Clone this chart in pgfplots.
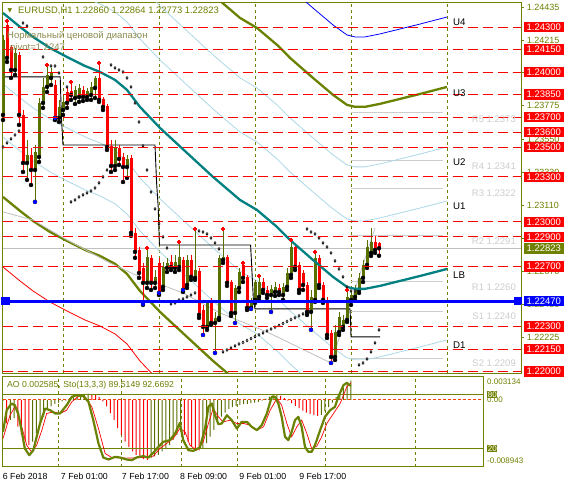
\documentclass[border=0pt]{standalone}
\usepackage{fontspec}
\usepackage{pgfplots}
\usepackage{pgfplotstable}
\pgfplotsset{compat=1.18}
\setmainfont{Liberation Sans}
\newfontfamily\djv{DejaVu Sans}
\newcommand\fz[1]{\fontsize{#1}{#1}\selectfont}

\definecolor{olv}{RGB}{112,128,0}
\definecolor{cndl}{RGB}{88,112,0}
\definecolor{olvln}{RGB}{105,130,0}
\definecolor{tealc}{RGB}{0,128,128}
\definecolor{lblue}{RGB}{173,216,230}
\definecolor{pgray}{RGB}{205,205,205}
\definecolor{bidgray}{RGB}{192,192,192}
\definecolor{khaki}{RGB}{140,140,80}
\definecolor{ored}{RGB}{255,69,0}

% H1 candles, k = bar index
\pgfplotstableread{
k o h l c
0 1.23714 1.24248 1.23680 1.24215
3 1.24014 1.24161 1.23981 1.24128
6 1.23393 1.23547 1.23280 1.23447
8 1.23346 1.23513 1.23133 1.23467
9 1.23433 1.23827 1.23400 1.23794
10 1.23794 1.23961 1.23761 1.23901
11 1.23901 1.24048 1.23867 1.23981
12 1.23961 1.24028 1.23914 1.23994
14 1.23694 1.23814 1.23667 1.23767
15 1.23747 1.23847 1.23714 1.23801
18 1.23827 1.23908 1.23787 1.23881
19 1.23834 1.23921 1.23801 1.23894
21 1.23834 1.23894 1.23814 1.23874
22 1.23847 1.23934 1.23814 1.23901
23 1.23894 1.23974 1.23827 1.23961
28 1.23373 1.23547 1.23346 1.23500
31 1.23366 1.23447 1.23293 1.23420
36 1.22592 1.22825 1.22558 1.22765
38 1.22592 1.22678 1.22558 1.22632
40 1.22565 1.22732 1.22545 1.22698
41 1.22692 1.22759 1.22665 1.22725
43 1.22692 1.22779 1.22665 1.22732
44 1.22698 1.22866 1.22678 1.22765
46 1.22578 1.22779 1.22558 1.22745
48 1.22625 1.22952 1.22612 1.22678
51 1.22298 1.22478 1.22278 1.22465
53 1.22324 1.22398 1.22124 1.22358
54 1.22358 1.22779 1.22344 1.22759
55 1.22745 1.22952 1.22725 1.22765
58 1.22391 1.22578 1.22324 1.22558
59 1.22558 1.22692 1.22531 1.22665
62 1.22425 1.22491 1.22418 1.22465
63 1.22478 1.22612 1.22458 1.22598
64 1.22498 1.22638 1.22478 1.22598
67 1.22511 1.22578 1.22398 1.22552
68 1.22531 1.22598 1.22505 1.22565
70 1.22511 1.22592 1.22478 1.22565
71 1.22565 1.22692 1.22545 1.22658
72 1.22645 1.22879 1.22625 1.22832
77 1.22398 1.22545 1.22278 1.22498
78 1.22478 1.22799 1.22465 1.22759
83 1.22097 1.22311 1.22077 1.22264
84 1.22264 1.22398 1.22244 1.22364
85 1.22298 1.22378 1.22278 1.22344
86 1.22344 1.22545 1.22331 1.22498
87 1.22478 1.22545 1.22445 1.22511
88 1.22498 1.22578 1.22478 1.22545
89 1.22545 1.22658 1.22525 1.22625
90 1.22625 1.22745 1.22598 1.22712
91 1.22712 1.22879 1.22692 1.22832
92 1.22792 1.22959 1.22772 1.22866
}\bull
\pgfplotstableread{
k o h l c
1 1.24315 1.24348 1.24068 1.24095
2 1.24168 1.24181 1.23961 1.24014
4 1.24115 1.24135 1.23647 1.23714
5 1.23714 1.23747 1.23333 1.23393
7 1.23447 1.23493 1.23246 1.23346
13 1.23914 1.23948 1.23680 1.23694
16 1.23867 1.23894 1.23761 1.23794
17 1.23874 1.23934 1.23814 1.23847
20 1.23881 1.23908 1.23807 1.23834
24 1.23961 1.24061 1.23801 1.23814
25 1.23821 1.23834 1.23747 1.23767
26 1.23774 1.23787 1.23480 1.23500
27 1.23507 1.23547 1.23333 1.23373
29 1.23493 1.23513 1.23380 1.23420
30 1.23433 1.23460 1.23266 1.23366
32 1.23427 1.23447 1.22906 1.22926
33 1.22926 1.22959 1.22759 1.22799
34 1.22812 1.22832 1.22625 1.22658
35 1.22692 1.22725 1.22445 1.22592
37 1.22759 1.22779 1.22545 1.22592
39 1.22725 1.22759 1.22511 1.22525
42 1.22732 1.22779 1.22678 1.22698
45 1.22745 1.22765 1.22531 1.22545
47 1.22745 1.22779 1.22612 1.22632
49 1.22672 1.22692 1.22358 1.22378
50 1.22411 1.22445 1.22244 1.22298
52 1.22465 1.22491 1.22311 1.22324
56 1.22765 1.22779 1.22572 1.22592
57 1.22598 1.22612 1.22371 1.22391
60 1.22712 1.22725 1.22598 1.22625
61 1.22632 1.22645 1.22411 1.22425
65 1.22598 1.22625 1.22525 1.22545
66 1.22545 1.22572 1.22491 1.22511
69 1.22558 1.22585 1.22511 1.22531
73 1.22832 1.22845 1.22678 1.22698
74 1.22712 1.22732 1.22525 1.22545
75 1.22658 1.22678 1.22545 1.22578
76 1.22578 1.22598 1.22378 1.22398
79 1.22759 1.22779 1.22558 1.22578
80 1.22578 1.22598 1.22458 1.22478
81 1.22478 1.22498 1.22224 1.22244
82 1.22258 1.22278 1.22057 1.22097
93 1.22866 1.22906 1.22792 1.22812
94 1.22860 1.22864 1.22773 1.22823
}\bear

% range bands around the centre line LB
\pgfplotstableread{
k lb u1 u2 u3 u4 d1 d2 d3 d4
0 1.24395 1.24849 1.25210 1.25611 1.26078 1.23921 1.23567 1.23166 1.22698
4.25 1.24302 1.24756 1.25117 1.25518 1.25985 1.23828 1.23474 1.23073 1.22605
7.5 1.24235 1.24689 1.25050 1.25451 1.25918 1.23761 1.23407 1.23006 1.22538
11.75 1.24161 1.24615 1.24976 1.25377 1.25844 1.23687 1.23333 1.22932 1.22464
16 1.24101 1.24555 1.24916 1.25317 1.25784 1.23627 1.23273 1.22872 1.22404
20.5 1.24041 1.24495 1.24856 1.25257 1.25724 1.23567 1.23213 1.22812 1.22344
24.25 1.24001 1.24455 1.24816 1.25217 1.25684 1.23527 1.23173 1.22772 1.22304
28 1.23948 1.24402 1.24763 1.25164 1.25631 1.23474 1.23120 1.22719 1.22251
31 1.23881 1.24335 1.24696 1.25097 1.25564 1.23407 1.23053 1.22652 1.22184
34.25 1.23767 1.24221 1.24582 1.24983 1.25450 1.23293 1.22939 1.22538 1.22070
39.25 1.23627 1.24081 1.24442 1.24843 1.25310 1.23153 1.22799 1.22398 1.21930
46 1.23460 1.23914 1.24275 1.24676 1.25143 1.22986 1.22632 1.22231 1.21763
52.5 1.23300 1.23754 1.24115 1.24516 1.24983 1.22826 1.22472 1.22071 1.21603
59.25 1.23146 1.23600 1.23961 1.24362 1.24829 1.22672 1.22318 1.21917 1.21449
63.5 1.23079 1.23533 1.23894 1.24295 1.24762 1.22605 1.22251 1.21850 1.21382
68.5 1.22966 1.23420 1.23781 1.24182 1.24649 1.22492 1.22138 1.21737 1.21269
71.75 1.22879 1.23333 1.23694 1.24095 1.24562 1.22405 1.22051 1.21650 1.21182
77.5 1.22745 1.23199 1.23560 1.23961 1.24428 1.22271 1.21917 1.21516 1.21048
82.5 1.22632 1.23086 1.23447 1.23848 1.24315 1.22158 1.21804 1.21403 1.20935
86 1.22565 1.23019 1.23380 1.23781 1.24248 1.22091 1.21737 1.21336 1.20868
88 1.22552 1.23006 1.23367 1.23768 1.24235 1.22078 1.21724 1.21323 1.20855
90.5 1.22552 1.23006 1.23367 1.23768 1.24235 1.22078 1.21724 1.21323 1.20855
94.25 1.22572 1.23026 1.23387 1.23788 1.24255 1.22098 1.21744 1.21343 1.20875
99.25 1.22605 1.23059 1.23420 1.23821 1.24288 1.22131 1.21777 1.21376 1.20908
104.25 1.22638 1.23092 1.23453 1.23854 1.24321 1.22164 1.21810 1.21409 1.20941
111 1.22685 1.23139 1.23500 1.23901 1.24368 1.22211 1.21857 1.21456 1.20988
}\bands

% parabolic SAR
\pgfplotstableread{
k v
0 1.23500
1 1.23527
2 1.23554
3 1.23580
4 1.23607
5 1.24328
6 1.24308
10 1.24101
12 1.24041
13 1.24041
14 1.23994
16 1.23901
17 1.23133
18 1.23146
19 1.23166
20 1.23180
21 1.23193
22 1.23206
23 1.23226
24 1.23260
25 1.23300
26 1.23346
27 1.24048
28 1.24028
29 1.24014
30 1.24001
31 1.23961
32 1.23901
33 1.23794
34 1.23667
35 1.23507
36 1.23346
37 1.23199
38 1.23086
39 1.22986
40 1.22899
41 1.22825
42 1.22451
43 1.22458
44 1.22478
45 1.22485
46 1.22498
47 1.22511
48 1.22525
49 1.22939
50 1.22932
51 1.22919
52 1.22892
53 1.22859
54 1.22819
55 1.22131
56 1.22144
57 1.22157
58 1.22171
59 1.22184
60 1.22194
61 1.22207
62 1.22220
63 1.22233
64 1.22245
65 1.22258
66 1.22271
67 1.22284
68 1.22296
69 1.22308
70 1.22321
71 1.22334
72 1.22347
73 1.22359
74 1.22372
75 1.22385
76 1.22952
77 1.22932
78 1.22919
79 1.22892
80 1.22859
81 1.22832
82 1.22792
83 1.22739
84 1.22685
85 1.22632
86 1.22565
87 1.22538
88 1.22538
89 1.22044
90 1.22057
91 1.22084
92 1.22131
93 1.22191
94 1.22278
}\sar

\pgfplotstableread{
k v
1 1.24342
11 1.24048
17 1.23934
24 1.24061
36 1.22825
44 1.22866
48 1.22952
55 1.22952
60 1.22725
64 1.22638
72 1.22879
78 1.22799
86 1.22545
}\frup
\pgfplotstableread{
k v
8 1.23133
13 1.23694
35 1.22451
39 1.22525
45 1.22545
50 1.22244
53 1.22124
58 1.22324
62 1.22418
67 1.22398
77 1.22278
82 1.22057
}\frdn

% Awesome oscillator
\pgfplotstableread{
k v
0 -0.00022
2 -0.00268
3 -0.00246
8 -0.00559
9 -0.00447
10 -0.00335
11 -0.00224
12 -0.00134
13 -0.00089
14 -0.00054
15 -0.00036
16 -0.00022
17 -0.00009
18 0.00022
19 0.00045
20 0.00063
21 0.00072
22 0.00080
23 0.00082
40 -0.00782
41 -0.00760
42 -0.00738
43 -0.00693
44 -0.00662
45 -0.00603
46 -0.00536
47 -0.00469
48 -0.00425
54 -0.00648
55 -0.00581
56 -0.00492
57 -0.00402
58 -0.00313
59 -0.00224
60 -0.00170
61 -0.00125
62 -0.00098
63 -0.00080
64 -0.00067
65 -0.00058
66 -0.00054
67 -0.00045
68 -0.00036
69 -0.00027
70 -0.00009
71 0.00018
72 0.00045
73 0.00063
74 0.00067
86 -0.00201
87 -0.00156
88 -0.00098
89 -0.00036
90 0.00036
91 0.00098
92 0.00156
93 0.00224
94 0.002585
}\aoup
\pgfplotstableread{
k v
1 -0.00313
4 -0.00358
5 -0.00469
6 -0.00536
7 -0.00603
24 0.00072
25 0.00063
26 0.00036
27 -0.00022
28 -0.00089
29 -0.00179
30 -0.00268
31 -0.00380
32 -0.00469
33 -0.00559
34 -0.00635
35 -0.00693
36 -0.00738
37 -0.00769
38 -0.00796
39 -0.00805
49 -0.00469
50 -0.00559
51 -0.00617
52 -0.00662
53 -0.00679
75 0.00054
76 0.00022
77 -0.00009
78 -0.00045
79 -0.00080
80 -0.00112
81 -0.00143
82 -0.00170
83 -0.00188
84 -0.00201
85 -0.00215
}\aodn

% Stochastic (13,3,3)
\pgfplotstableread{
k s
0 38.5
1.0 62.6
2.3 70.0
3.2 68.1
4.1 58.9
5.0 40.4
5.9 20.0
7.1 12.6
8.2 18.1
9.1 33.0
10.0 47.8
11.4 64.4
12.7 62.6
14.1 58.9
15.4 58.9
17.2 68.1
18.6 77.4
19.9 79.3
21.7 78.1
23.1 71.9
24.4 51.5
25.8 25.6
27.1 10.0
28.5 7.8
30.3 10.7
31.6 10.0
33.4 7.8
34.8 7.0
36.1 10.0
37.9 11.5
39.3 10.0
40.6 15.2
42.0 21.8
43.3 27.4
45.1 29.3
46.5 36.7
47.8 48.5
48.7 29.3
50.1 18.1
51.4 17.4
53.2 21.1
54.6 42.2
55.5 66.3
56.4 70.0
57.3 57.0
58.2 47.0
59.1 47.8
60.5 57.0
61.8 51.5
63.2 42.2
64.5 49.6
65.9 49.6
67.2 44.1
68.6 40.4
69.9 45.9
71.3 58.9
72.6 77.4
73.5 77.4
74.4 70.0
75.3 55.2
76.2 33.0
77.1 29.3
78.0 38.5
78.9 51.5
79.8 55.2
80.7 44.1
81.6 21.8
82.5 16.3
83.4 16.3
84.3 23.7
85.7 40.4
87.0 55.2
88.4 62.6
89.7 66.3
90.6 77.4
92.0 90.4
92.9 93.0
94.0 89.5
}\stmain
\pgfplotstableread{
k s
0 31.1
1.9 57.0
3.2 66.3
4.6 51.5
6.4 23.7
7.7 16.3
9.1 23.7
10.5 40.4
11.8 58.9
13.6 60.7
15.4 58.9
17.2 62.6
18.6 71.9
20.4 78.1
22.2 77.4
24.0 66.3
25.8 42.2
27.6 14.4
29.4 10.0
33.4 9.3
37.9 10.0
40.6 11.5
42.4 20.0
44.2 25.6
46.0 31.1
47.8 42.2
49.2 38.5
50.5 23.7
52.3 18.1
54.1 27.4
55.5 47.8
56.8 64.4
58.2 55.2
59.5 49.6
61.4 51.5
63.2 47.8
65.0 47.8
66.8 45.9
68.6 40.4
70.4 44.1
72.2 62.6
74.0 75.6
75.3 68.1
76.7 47.8
78.0 33.0
79.4 44.1
80.7 51.5
82.1 36.7
83.4 20.0
84.8 22.6
86.1 33.0
87.5 47.8
89.3 58.9
91.1 70.0
92.9 88.5
94.0 92.67
}\stsig

\begin{document}
\begin{tikzpicture}
\path[use as bounding box, fill=white] (0pt,0pt) rectangle (564pt,487pt);

%% ---------------- price window ----------------
\begin{axis}[
    at={(2.7pt,114pt)}, anchor=south west, scale only axis,
    width=518.3pt, height=370.5pt,
    xmin=-0.075, xmax=129.5, ymin=1.2199, ymax=1.24465,
    axis line style={olv, line width=0.8pt},
    ticks=none, clip mode=individual, clip bounding box=upper bound,
]
\pgfplotsinvokeforeach{15,39,63,87,111}{
  \addplot[olv, line width=0.7pt, dash pattern=on 3pt off 3pt] coordinates {(#1,1.2199) (#1,1.24465)};
}
% today's pivot levels
\pgfplotsinvokeforeach{1.2373,1.2341,1.2322,1.2291,1.2260,1.2240,1.2209}{
  \addplot[pgray, line width=0.8pt] coordinates {(87,#1) (110,#1)};
}
\addplot[bidgray, line width=0.8pt] coordinates {(-0.075,1.22823) (129.5,1.22823)};

% bands
\addplot[lblue, line width=0.8pt] table[x=k,y=u1] {\bands};
\addplot[lblue, line width=0.8pt] table[x=k,y=u2] {\bands};
\addplot[lblue, line width=0.8pt] table[x=k,y=d1] {\bands};
\addplot[lblue, line width=0.8pt] table[x=k,y=d2] {\bands};
\addplot[blue, line width=0.8pt] table[x=k,y=u4] {\bands};
\addplot[red, line width=0.8pt] table[x=k,y=d4] {\bands};
\addplot[olvln, line width=2.3pt] table[x=k,y=u3] {\bands};
\addplot[olvln, line width=2.3pt] table[x=k,y=d3] {\bands};

% zigzag
\addplot[bidgray, line width=0.8pt] coordinates {(0,1.23066) (7.5,1.23012) (16,1.22879) (26.75,1.22725)
  (34.25,1.22632) (45,1.22525) (54.25,1.22391) (66,1.22264) (82,1.22057) (93,1.22959)};
% daily range steps
\addplot[black, line width=0.9pt] coordinates {(0,1.23968) (14.3,1.23968) (14.6,1.237) (15,1.23513)
  (38,1.23513) (38.4,1.2326) (38.8,1.23099) (39.1,1.22845) (61.9,1.22845) (62.6,1.22478) (63,1.22418)
  (86.75,1.22418) (86.9,1.22331) (87,1.22231) (94.25,1.22231)};

% candles: wicks then bodies
\addplot[only marks, mark=none, error bars/.cd, y dir=plus, y explicit, error mark=none,
  error bar style={draw=cndl, line width=1pt}]
  table[x=k, y=l, y error expr=\thisrow{h}-\thisrow{l}] {\bull};
\addplot[only marks, mark=none, error bars/.cd, y dir=plus, y explicit, error mark=none,
  error bar style={draw=red, line width=1pt}]
  table[x=k, y=l, y error expr=\thisrow{h}-\thisrow{l}] {\bear};
\addplot[only marks, mark=none, error bars/.cd, y dir=plus, y explicit, error mark=none,
  error bar style={draw=cndl, line width=3pt}]
  table[x=k, y=o, y error expr=\thisrow{c}-\thisrow{o}] {\bull};
\addplot[only marks, mark=none, error bars/.cd, y dir=plus, y explicit, error mark=none,
  error bar style={draw=red, line width=3pt}]
  table[x=k, y=c, y error expr=\thisrow{o}-\thisrow{c}] {\bear};

\addplot[tealc, line width=2.3pt] table[x=k,y=lb] {\bands};

\addplot[only marks, mark=diamond*, mark size=1.4pt, mark options={fill=white, draw=black, line width=0.6pt}]
  table[x=k,y=v] {\sar};
\addplot[only marks, mark=+, mark size=2.3pt, mark options={draw=red, line width=1.3pt}] table[x=k,y=v] {\frup};
\addplot[only marks, mark=+, mark size=2.3pt, mark options={draw=blue, line width=1.3pt}] table[x=k,y=v] {\frdn};

% horizontal levels
\pgfplotsinvokeforeach{1.24300,1.24150,1.24000,1.23850,1.23700,1.23600,1.23500,1.23300,1.23000,1.22900,1.22700,1.22300,1.22150,1.22000}{
  \addplot[red, line width=0.9pt, dash pattern=on 10pt off 5pt] coordinates {(-0.075,#1) (129.5,#1)};
}
\addplot[blue, line width=3pt, mark=square*, mark size=2.6pt, mark indices={1,3}]
  coordinates {(0.6,1.2247) (64,1.2247) (128.7,1.2247)};

% pivot labels
\node[anchor=east, inner sep=0pt, text=pgray, font=\fz{9.5}] at (axis cs:128.25,1.23687) {R5 1.2373};
\node[anchor=east, inner sep=0pt, text=pgray, font=\fz{9.5}] at (axis cs:128.25,1.23373) {R4 1.2341};
\node[anchor=east, inner sep=0pt, text=pgray, font=\fz{9.5}] at (axis cs:128.25,1.23193) {R3 1.2322};
\node[anchor=east, inner sep=0pt, text=pgray, font=\fz{9.5}] at (axis cs:128.25,1.22867) {R2 1.2291};
\node[anchor=east, inner sep=0pt, text=pgray, font=\fz{9.5}] at (axis cs:128.25,1.22565) {R1 1.2260};
\node[anchor=east, inner sep=0pt, text=pgray, font=\fz{9.5}] at (axis cs:128.25,1.22366) {S1 1.2240};
\node[anchor=east, inner sep=0pt, text=pgray, font=\fz{9.5}] at (axis cs:128.25,1.22055) {S2 1.2209};

% band names
\node[anchor=west, inner sep=0pt, font=\fz{9.7}] at (axis cs:112.5,1.24335) {U4};
\node[anchor=west, inner sep=0pt, font=\fz{9.7}] at (axis cs:112.5,1.23861) {U3};
\node[anchor=west, inner sep=0pt, font=\fz{9.7}] at (axis cs:112.5,1.23400) {U2};
\node[anchor=west, inner sep=0pt, font=\fz{9.7}] at (axis cs:112.5,1.23106) {U1};
\node[anchor=west, inner sep=0pt, font=\fz{9.7}] at (axis cs:112.5,1.22645) {LB};
\node[anchor=west, inner sep=0pt, font=\fz{9.7}] at (axis cs:112.5,1.22177) {D1};

% price scale
\pgfplotsinvokeforeach{1.24435,1.24215,1.23995,1.23775,1.23550,1.23330,1.23110,1.22890,1.22670,1.22450,1.22225}{
  \draw[olv, line width=0.8pt] (axis cs:129.5,#1) -- ++(3pt,0pt);
  \node[anchor=west, inner sep=0pt, text=olv, xshift=5.7pt, font=\fz{9}] at (axis cs:129.5,#1) {#1};
}
\pgfplotsinvokeforeach{1.24300,1.24150,1.24000,1.23850,1.23700,1.23600,1.23500,1.23300,1.23000,1.22900,1.22700,1.22300,1.22150,1.22000}{
  \node[fill=red, text=white, inner sep=0pt, minimum width=40.7pt, minimum height=10.5pt,
    anchor=west, xshift=2.3pt, font=\fz{9.5}] at (axis cs:129.5,#1) {#1};
}
\node[fill=olv, text=white, inner sep=0pt, minimum width=40.7pt, minimum height=10.5pt,
  anchor=west, xshift=2.3pt, font=\fz{9.5}] at (axis cs:129.5,1.22823) {1.22823};
\node[fill=blue, text=white, inner sep=0pt, minimum width=40.7pt, minimum height=10.5pt,
  anchor=west, xshift=2.3pt, font=\fz{9.5}] at (axis cs:129.5,1.2247) {1.22470};

% chart header
\node[text=olv, inner sep=0pt, font=\djv\fz{6}] at (axis cs:1.75,1.24409) {▼};
\node[anchor=west, inner sep=0pt, text=olv, font=\fz{9.4}] at (axis cs:3.75,1.24409)
  {EURUSD,H1 1.22860 1.22864 1.22773 1.22823};
\node[anchor=west, inner sep=0pt, text=khaki, font=\fz{9.5}] at (axis cs:1,1.24242) {Нормальный ценовой диапазон};
\node[anchor=west, inner sep=0pt, text=khaki, font=\fz{9.5}] at (axis cs:1.75,1.24161) {pivot=1.2247};
\end{axis}

%% ---------------- AO window ----------------
\begin{axis}[
    at={(2.7pt,20.5pt)}, anchor=south west, scale only axis,
    width=480.3pt, height=90pt,
    xmin=-0.08, xmax=129.7, ymin=-0.008943, ymax=0.003134,
    axis line style={olv, line width=0.8pt},
    ticks=none, clip mode=individual, clip bounding box=upper bound,
]
\pgfplotsinvokeforeach{15,32.1,48.1,63.2,87.2,111.4}{
  \addplot[olv, line width=0.7pt, dash pattern=on 3pt off 3pt] coordinates {(#1,-0.008943) (#1,0.003134)};
}
\addplot[ored, line width=0.8pt, dash pattern=on 3pt off 2pt] coordinates {(-0.08,0) (129.7,0)};
\addplot[ybar, bar width=1pt, bar shift=0pt, fill=cndl, draw=none] table[x=k,y=v] {\aoup};
\addplot[ybar, bar width=1pt, bar shift=0pt, fill=red, draw=none] table[x=k,y=v] {\aodn};

\node[anchor=west, inner sep=0pt, text=olv, font=\fz{8.7}] at (axis cs:1.08,0.002) {AO 0.002585, Sto(13,3,3) 89.5149 92.6692};
\node[anchor=north west, inner sep=0pt, text=olv, xshift=4pt, yshift=-2.5pt, font=\fz{8}] at (axis cs:129.7,0.003134) {0.003134};
\node[anchor=west, inner sep=0pt, text=olv, xshift=4pt, font=\fz{8}] at (axis cs:129.7,0) {0.00};
\node[anchor=south west, inner sep=0pt, text=olv, xshift=4pt, yshift=3pt, font=\fz{8}] at (axis cs:129.7,-0.008943) {-0.008943};

\node[anchor=north west, inner sep=0pt, yshift=-6pt, font=\fz{8.8}] at (axis cs:-0.08,-0.008943) {6 Feb 2018};
\node[anchor=north west, inner sep=0pt, yshift=-6pt, font=\fz{8.8}] at (axis cs:15.6,-0.008943) {7 Feb 01:00};
\node[anchor=north west, inner sep=0pt, yshift=-6pt, font=\fz{8.8}] at (axis cs:32.1,-0.008943) {7 Feb 17:00};
\node[anchor=north west, inner sep=0pt, yshift=-6pt, font=\fz{8.8}] at (axis cs:47.8,-0.008943) {8 Feb 09:00};
\node[anchor=north west, inner sep=0pt, yshift=-6pt, font=\fz{8.8}] at (axis cs:63.8,-0.008943) {9 Feb 01:00};
\node[anchor=north west, inner sep=0pt, yshift=-6pt, font=\fz{8.8}] at (axis cs:80,-0.008943) {9 Feb 17:00};
\end{axis}

%% stochastic overlay
\begin{axis}[
    at={(2.7pt,20.5pt)}, anchor=south west, scale only axis,
    width=480.3pt, height=90pt,
    xmin=-0.08, xmax=129.7, ymin=0, ymax=100,
    hide axis, clip mode=individual, clip bounding box=upper bound,
]
\addplot[olv, line width=0.8pt] coordinates {(-0.08,80) (129.7,80)};
\addplot[olv, line width=0.8pt] coordinates {(-0.08,20) (129.7,20)};
\addplot[red, line width=0.7pt] table[x=k,y=s] {\stsig};
\addplot[olvln, line width=2.2pt, line join=round] table[x=k,y=s] {\stmain};
\node[fill=olv, text=white, inner sep=0.6pt, anchor=west, xshift=4pt, font=\fz{8}] at (axis cs:129.7,80) {80};
\node[fill=olv, text=white, inner sep=0.6pt, anchor=west, xshift=4pt, font=\fz{8}] at (axis cs:129.7,20) {20};
\end{axis}
\end{tikzpicture}
\end{document}
